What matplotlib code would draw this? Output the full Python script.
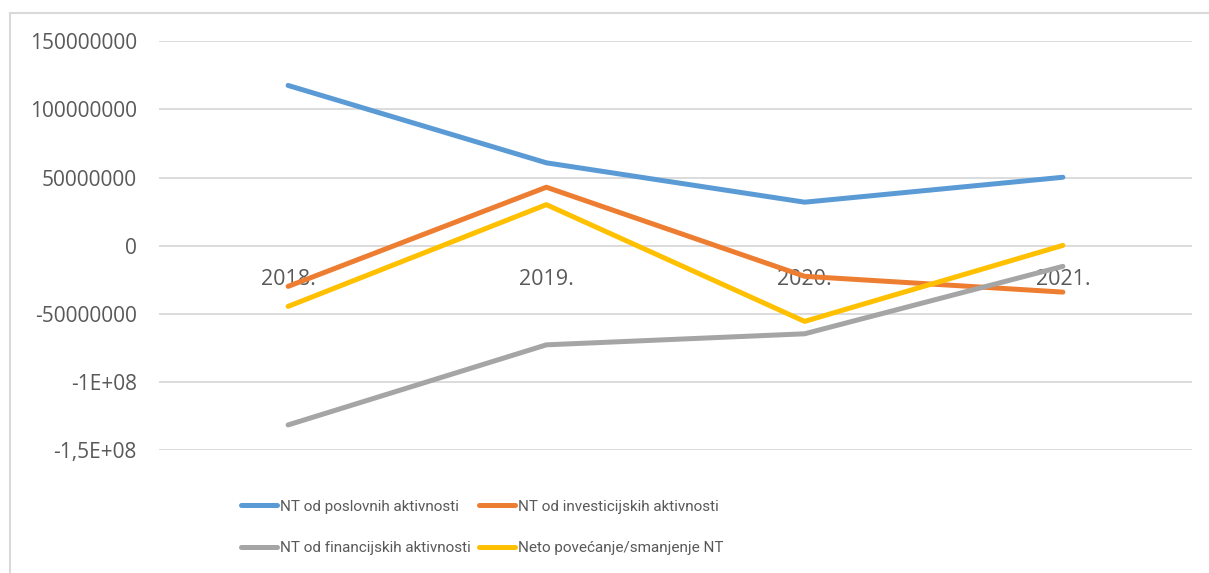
import matplotlib.pyplot as plt
from matplotlib.lines import Line2D

years = ['2018.', '2019.', '2020.', '2021.']
poslovne = [117600000, 60800000, 31900000, 50200000]
investicijske = [-29900000, 42900000, -22500000, -34100000]
financijske = [-131600000, -72800000, -64700000, -15200000]
neto = [-44600000, 30100000, -55600000, 200000]

series = [
    ('NT od poslovnih aktivnosti', poslovne, '#5B9BD5'),
    ('NT od investicijskih aktivnosti', investicijske, '#ED7D31'),
    ('NT od financijskih aktivnosti', financijske, '#A5A5A5'),
    ('Neto povećanje/smanjenje NT', neto, '#FFC000'),
]

yticks = [-150000000, -100000000, -50000000, 0, 50000000, 100000000, 150000000]
ytick_labels = ['-1,5E+08', '-1E+08', '-50000000', '0', '50000000', '100000000', '150000000']

W, H = 1209, 573
fig = plt.figure(figsize=(W / 100, H / 100), dpi=100)
ax = fig.add_axes([159 / W, 1 - 450 / H, (1192 - 159) / W, (450 - 41.3) / H])

x = list(range(len(years)))
for label, vals, color in series:
    ax.plot(x, vals, color=color, lw=3.6, solid_capstyle='round', label=label)

ax.set_xlim(-0.5, len(years) - 0.5)
ax.set_ylim(-150000000, 150000000)
ax.set_yticks(yticks)
ax.set_yticklabels(ytick_labels)
ax.grid(axis='y', color='#D9D9D9', lw=1.3)
ax.set_axisbelow(True)
for s in ax.spines.values():
    s.set_visible(False)
ax.spines['bottom'].set_position(('data', 0))
ax.set_xticks(x)
ax.set_xticklabels(years)
ax.tick_params(axis='y', length=0, pad=16, labelsize=15, labelcolor='#595959')
ax.tick_params(axis='x', length=0, pad=17, labelsize=15.5, labelcolor='#595959')
for t in ax.get_xticklabels() + ax.get_yticklabels():
    t.set_fontfamily('Open Sans')

# chart border (partially visible)
fig.add_artist(Line2D([10 / W, 10 / W], [0, 1 - 13 / H], color='#D9D9D9', lw=1.5))
fig.add_artist(Line2D([10 / W, 1], [1 - 13 / H, 1 - 13 / H], color='#D9D9D9', lw=1.5))

# legend fills column by column, so reorder to get the rows right
handles, labels = ax.get_legend_handles_labels()
order = [0, 2, 1, 3]
leg = fig.legend([handles[i] for i in order], [labels[i] for i in order], ncol=2,
                 loc='upper left', bbox_to_anchor=(233 / W, 1 - 492 / H), frameon=False,
                 prop={'family': 'Roboto', 'size': 11},
                 handlelength=2.35, handletextpad=0.2, columnspacing=0.55,
                 labelspacing=1.8, borderpad=0)
for t in leg.get_texts():
    t.set_color('#595959')

fig.savefig('out.png', dpi=100)
